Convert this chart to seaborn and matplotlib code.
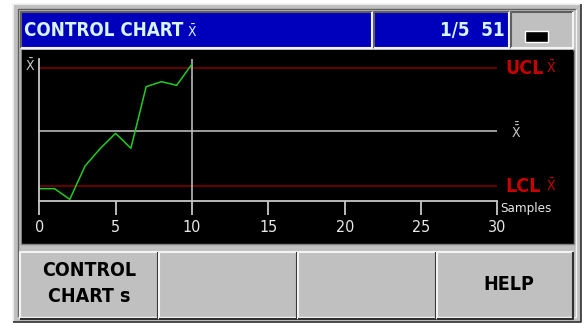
import matplotlib
matplotlib.use("Agg")
import matplotlib.pyplot as plt
import seaborn as sns
from matplotlib.patches import Rectangle

# data
samples = [0, 1, 2, 3, 4, 5, 6, 7, 8, 9, 10]
xbar = [3.6, 3.6, 0.4, 10.4, 15.7, 20.2, 15.7, 34.2, 35.7, 34.6, 41.0]
ucl = 39.8
center = 20.8
lcl = 4.4
x_max = 30
x_ticks = [0, 5, 10, 15, 20, 25, 30]
title = "CONTROL CHART"
counter = "1/5  51"
buttons = [["CONTROL", "CHART s"], [], [], ["HELP"]]

sns.set_style("dark")
plt.rcParams['font.family'] = ['DejaVu Sans']
plt.rcParams['font.stretch'] = 'condensed'
plt.rcParams['mathtext.fontset'] = 'dejavusans'

GRAY = '#c0c0c0'
BLUE = '#0000bc'
TXT = '#d8f4ff'
RED = '#c80000'
DKRED = '#7a0000'
LINE = '#c8c8c8'

fig = plt.figure(figsize=(5.87, 3.24), dpi=100, facecolor='white')
bg = fig.add_axes([0, 0, 1, 1])
bg.set_xlim(0, 587)
bg.set_ylim(324, 0)
bg.axis('off')


def bevel(x0, y0, x1, y1, fill, raised=True, lw=1.5):
    bg.add_patch(Rectangle((x0, y0), x1 - x0, y1 - y0, facecolor=fill, edgecolor='none'))
    hi, lo = ('#f4f4f4', '#303030') if raised else ('#606060', '#f4f4f4')
    bg.plot([x0, x0, x1], [y1, y0, y0], color=hi, lw=lw, solid_capstyle='butt')
    bg.plot([x0, x1, x1], [y1, y1, y0], color=lo, lw=lw, solid_capstyle='butt')


# outer frame
bevel(13, 4, 581, 322, GRAY, lw=1.2)
bevel(18, 9, 576, 317, GRAY, raised=False, lw=1)

# title bar
bevel(21, 12, 372, 48, BLUE, raised=False)
bevel(374, 12, 509, 48, BLUE, raised=False)
bevel(511, 12, 573, 48, GRAY, raised=False)
bg.add_patch(Rectangle((525, 31), 23, 11, facecolor='black'))
t = bg.text(24, 31, title, color=TXT, fontsize=13.5, fontweight='bold', va='center', ha='left')
bg.text(505, 31, counter, color=TXT, fontsize=13.5, fontweight='bold', va='center', ha='right')
fig.canvas.draw()
ext = t.get_window_extent()
bg.text(ext.x1 + 4, 32, r'$\bar{\mathsf{X}}$', color=TXT, fontsize=10, va='center', ha='left')

# chart panel
bg.add_patch(Rectangle((21, 50), 553, 194, facecolor='black', edgecolor='#808080', lw=1))

# soft keys
edges = [20, 159, 298, 437, 574]
for i, lab in enumerate(buttons):
    x0, x1 = edges[i], edges[i + 1] - 1.5
    bevel(x0, 252, x1, 319, GRAY)
    if len(lab) == 2:
        bg.text((x0 + x1) / 2, 271, lab[0], color='black', fontsize=14, fontweight='bold', ha='center', va='center')
        bg.text((x0 + x1) / 2, 296, lab[1], color='black', fontsize=14, fontweight='bold', ha='center', va='center')
    elif lab:
        bg.text((x0 + x1) / 2 + 4, 284, lab[0], color='black', fontsize=14, fontweight='bold', ha='center', va='center')

# chart axes
ax = fig.add_axes([22 / 587, (324 - 243) / 324, (573 - 22) / 587, (243 - 50) / 324])
ax.set_facecolor('black')
ax.set_xlim(-1.13, 34.95)
ax.set_ylim(-12.7, 45.2)
ax.grid(False)

ax.hlines([ucl, lcl], 0, x_max, color=DKRED, lw=1.2)
ax.hlines(center, 0, x_max, color=LINE, lw=1.1)
ax.vlines(samples[-1], 0, 42.5, color=LINE, lw=1.1)
sns.lineplot(x=samples, y=xbar, ax=ax, color='#22cc22', lw=1.1)

for s in ['top', 'right']:
    ax.spines[s].set_visible(False)
ax.spines['left'].set_position(('data', 0))
ax.spines['left'].set_bounds(0, 42.5)
ax.spines['bottom'].set_position(('data', 0))
ax.spines['bottom'].set_bounds(0, x_max)
for s in ['left', 'bottom']:
    ax.spines[s].set_color(LINE)
    ax.spines[s].set_linewidth(1.3)
ax.set_xticks(x_ticks)
ax.set_yticks([])
ax.tick_params(axis='x', direction='out', length=10, width=1.3, color=LINE,
               labelcolor='#e8e8e8', labelsize=11.5, pad=4, bottom=True)
ax.set_xlabel('')
ax.set_ylabel('')

ax.text(30.5, ucl, 'UCL', color=RED, fontsize=14, fontweight='bold', va='center', ha='left')
ax.text(33.2, ucl, r'$\bar{\mathsf{X}}$', color=RED, fontsize=10, va='center', ha='left')
ax.text(30.5, lcl, 'LCL', color=RED, fontsize=14, fontweight='bold', va='center', ha='left')
ax.text(33.2, lcl, r'$\bar{\mathsf{X}}$', color=RED, fontsize=10, va='center', ha='left')
ax.text(30.9, center, r'$\bar{\bar{\mathsf{X}}}$', color=LINE, fontsize=10, va='center', ha='left')
ax.text(-0.6, 40.6, r'$\bar{\mathsf{X}}$', color=LINE, fontsize=10, va='center', ha='center')
ax.text(30.2, -2.3, 'Samples', color='#e8e8e8', fontsize=9.5, va='center', ha='left')

fig.savefig('out.png', dpi=100, facecolor='white')
